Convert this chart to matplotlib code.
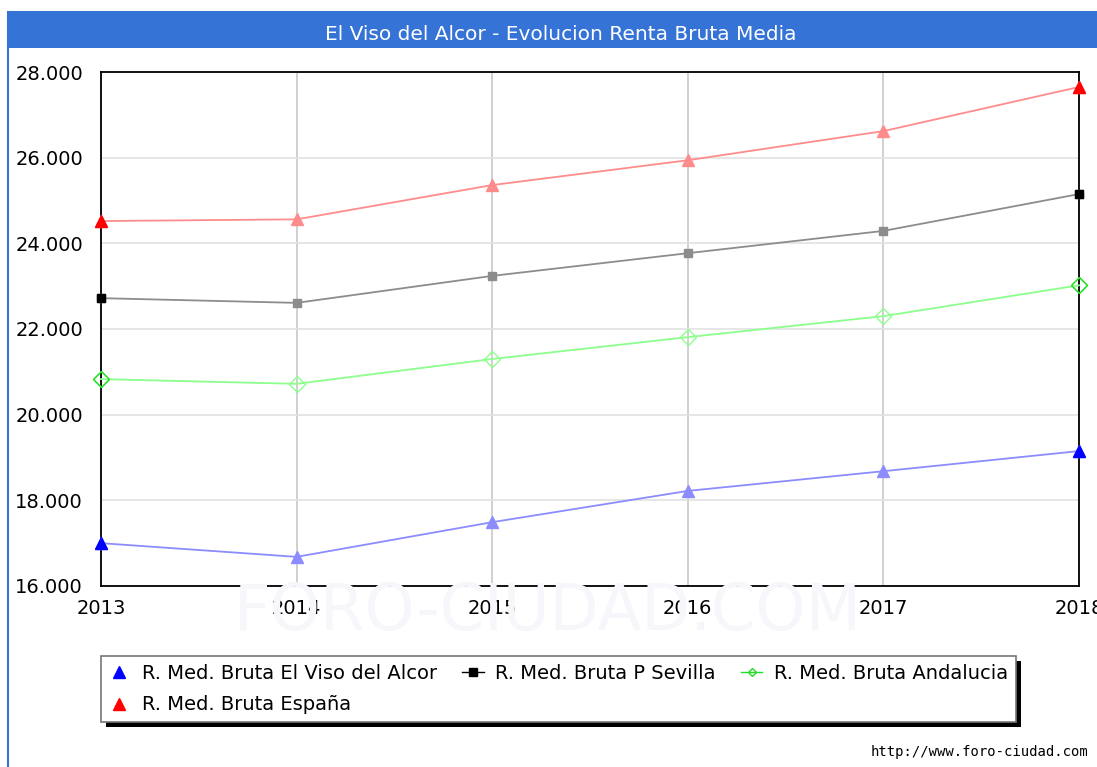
import matplotlib.pyplot as plt
from matplotlib.lines import Line2D
from matplotlib.patches import Rectangle
from matplotlib.ticker import FuncFormatter

# data
years = [2013, 2014, 2015, 2016, 2017, 2018]
renta_viso = [17000, 16680, 17490, 18220, 18680, 19150]
renta_sevilla = [22720, 22610, 23240, 23770, 24290, 25150]
renta_andalucia = [20830, 20720, 21300, 21810, 22300, 23020]
renta_espana = [24520, 24560, 25360, 25940, 26620, 27650]
y_ticks = [16000, 18000, 20000, 22000, 24000, 26000, 28000]

title = 'El Viso del Alcor - Evolucion Renta Bruta Media'
labels = ['R. Med. Bruta El Viso del Alcor', 'R. Med. Bruta P Sevilla',
          'R. Med. Bruta Andalucia', 'R. Med. Bruta España']

W, H = 1097, 767
fig = plt.figure(figsize=(W / 100, H / 100), dpi=100)

# outer frame (left edge) and title bar
fig.patches.append(Rectangle((8 / W, -0.1), 1.2, 1.1 - 12 / H, transform=fig.transFigure,
                             facecolor='none', edgecolor='#3573d6', lw=1.5))
fig.patches.append(Rectangle((8 / W, 1 - 48 / H), 1, 36 / H, transform=fig.transFigure,
                             facecolor='#3573d6', edgecolor='none'))
fig.text(561 / W, 1 - 34 / H, title, color='white', fontsize=14.5, ha='center', va='center')

# watermark, behind everything
fig.text(548 / W, 1 - 612 / H, 'FORO-CIUDAD.COM', fontsize=46, color='#f6f6fb',
         ha='center', va='center', zorder=0)

ax = fig.add_axes([101 / W, 1 - 586 / H, (1079 - 101) / W, (586 - 72) / H])
ax.patch.set_alpha(0)

series = [
    (renta_viso, '#8c8cff', 'blue', '^', 8),
    (renta_sevilla, '#8c8c8c', 'black', 's', 6),
    (renta_andalucia, '#8cff8c', '#22dd22', 'D', 8),
    (renta_espana, '#ff8c8c', 'red', '^', 8),
]
for vals, light, dark, mk, ms in series:
    fill = 'none' if mk == 'D' else light
    ax.plot(years, vals, color=light, lw=1.3, marker=mk, ms=ms,
            markerfacecolor=fill, markeredgecolor=light, zorder=3, clip_on=False)
    # first and last points drawn in full colour
    fill = 'none' if mk == 'D' else dark
    ax.plot([years[0], years[-1]], [vals[0], vals[-1]], ls='none', marker=mk, ms=ms,
            markerfacecolor=fill, markeredgecolor=dark, zorder=4, clip_on=False)

ax.set_xlim(2013, 2018)
ax.set_ylim(16000, 28000)
ax.set_xticks(years)
ax.set_yticks(y_ticks)
ax.yaxis.set_major_formatter(FuncFormatter(lambda v, p: f'{int(v):,}'.replace(',', '.')))
ax.tick_params(length=0, labelsize=14, pad=13)
ax.tick_params(axis='x', pad=9)
ax.grid(axis='x', color='#c8c8c8', lw=1.2)
ax.grid(axis='y', color='#e2e2e2', lw=1.2)
ax.set_axisbelow(True)
for s in ax.spines.values():
    s.set_color('black')
    s.set_linewidth(1.3)

# legend
handles = [
    Line2D([], [], color='blue', marker='^', ls='none', ms=8),
    Line2D([], [], color='red', marker='^', ls='none', ms=8),
    Line2D([], [], color='black', marker='s', lw=1, ms=6),
    Line2D([], [], color='#22dd22', marker='D', lw=1, ms=4, markerfacecolor='none'),
]
leg_labels = [labels[0], labels[3], labels[1], labels[2]]
leg = fig.legend(handles, leg_labels, ncol=3, loc='upper left',
                 bbox_to_anchor=(101 / W, 1 - 656 / H), fontsize=14,
                 frameon=True, fancybox=False, edgecolor='#777777',
                 facecolor='white', framealpha=1,
                 handlelength=1.1, handletextpad=0.6, columnspacing=1.3,
                 borderpad=0.4, labelspacing=0.65, borderaxespad=0)
leg.get_frame().set_linewidth(1.2)
leg.set_zorder(5)
fig.canvas.draw()
bb = leg.get_window_extent()
fig.patches.append(Rectangle((bb.x0 + 5, bb.y0 - 5), bb.width, bb.height,
                             transform=None, facecolor='black', edgecolor='none', zorder=1))

fig.text(1088 / W, 1 - 752 / H, 'http://www.foro-ciudad.com', fontsize=10,
         family='DejaVu Sans Mono', ha='right', va='center')

fig.savefig('out.png', dpi=100)
